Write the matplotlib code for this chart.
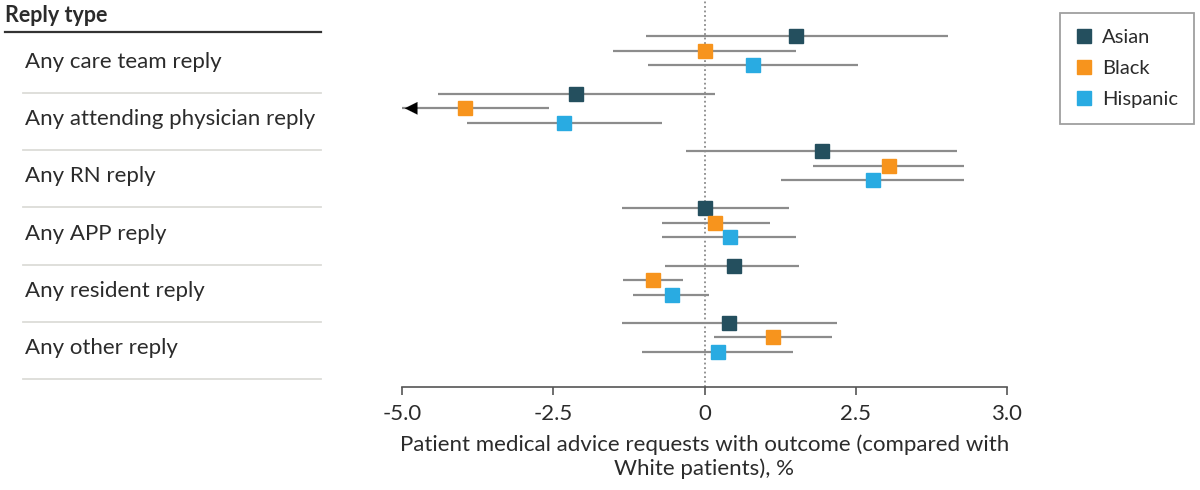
import numpy as np
import matplotlib
matplotlib.use("Agg")
import matplotlib.pyplot as plt
from matplotlib import transforms
from matplotlib.lines import Line2D

plt.rcParams['font.family'] = ['Lato', 'DejaVu Sans']

# Data (difference vs White patients, %)
reply_types = ["Any care team reply", "Any attending physician reply", "Any RN reply",
               "Any APP reply", "Any resident reply", "Any other reply"]
groups = ["Asian", "Black", "Hispanic"]
colors = ["#244f5e", "#f7941d", "#29abe2"]

asian_est = [1.51, -2.12, 1.94, 0.00, 0.48, 0.41]
asian_lo = [-0.96, -4.40, -0.30, -1.36, -0.65, -1.36]
asian_hi = [4.02, 0.18, 4.17, 1.39, 1.56, 2.19]

black_est = [0.00, -3.96, 3.05, 0.18, -0.85, 1.14]
black_lo = [-1.51, -5.30, 1.79, -0.70, -1.34, 0.15]
black_hi = [1.52, -2.57, 4.29, 1.08, -0.36, 2.11]

hisp_est = [0.80, -2.32, 2.78, 0.42, -0.54, 0.22]
hisp_lo = [-0.94, -3.92, 1.26, -0.70, -1.18, -1.04]
hisp_hi = [2.53, -0.71, 4.29, 1.51, 0.08, 1.47]

tick_vals = [-5.0, -2.5, 0, 2.5, 5.0]
tick_labels = ["-5.0", "-2.5", "0", "2.5", "3.0"]

series = [(asian_est, asian_lo, asian_hi),
          (black_est, black_lo, black_hi),
          (hisp_est, hisp_lo, hisp_hi)]

fig = plt.figure(figsize=(12, 4.9), dpi=100)
ax = fig.add_axes([402 / 1200, 1 - 387 / 490, 605 / 1200, 387 / 490])
xmin, xmax = -5.0, 5.0
ax.set_xlim(xmin, xmax)
ax.set_ylim(5.864, -0.89)

offsets = [-0.253, 0.0, 0.253]
txt = "#2b2b2b"

ax.axvline(0, color="#8a8a8a", lw=1.3, ls=(0, (1, 1.5)), zorder=1)

for (est, lo, hi), col, off in zip(series, colors, offsets):
    for i in range(len(reply_types)):
        y = i + off
        left = max(lo[i], xmin)
        ax.plot([left, hi[i]], [y, y], color="#8c8c8c", lw=1.6, zorder=2,
                solid_capstyle="butt")
        if lo[i] < xmin:
            ax.annotate("", xy=(xmin, y), xytext=(xmin + 0.3, y),
                        arrowprops=dict(arrowstyle="-|>,head_length=0.6,head_width=0.3",
                                        color="black", mutation_scale=15, lw=0.1),
                        zorder=4)
        ax.plot(est[i], y, marker="s", ms=9.5, color=col, mec=col, zorder=3)

for s in ["top", "right", "left"]:
    ax.spines[s].set_visible(False)
ax.spines["bottom"].set_color("#555555")
ax.spines["bottom"].set_linewidth(1.2)
ax.set_yticks([])
ax.set_xticks(tick_vals)
ax.set_xticklabels(tick_labels)
ax.tick_params(axis="x", length=6, width=1.2, color="#555555", labelsize=16,
               labelcolor=txt, pad=6)
ax.set_xlabel("Patient medical advice requests with outcome (compared with\nWhite patients), %",
              fontsize=16, color=txt, labelpad=8, linespacing=1.2)

# left-hand table of reply types
tr = transforms.blended_transform_factory(fig.transFigure, ax.transData)
fig.text(5 / 1200, 1 - 15 / 490, "Reply type", fontsize=15.5, fontweight="bold",
         color=txt, va="center", ha="left")
ax.plot([5 / 1200, 321 / 1200], [-0.33, -0.33], transform=tr, color="#333333",
        lw=1.6, clip_on=False)
for i, name in enumerate(reply_types):
    ax.text(25 / 1200, i + 0.19, name, transform=tr, fontsize=16, color=txt,
            va="center", ha="left")
    ax.plot([23 / 1200, 321 / 1200], [i + 0.73, i + 0.73], transform=tr,
            color="#dcdcd8", lw=1.3, clip_on=False)

handles = [Line2D([], [], marker="s", ls="", ms=10, color=c, mec=c) for c in colors]
leg = fig.legend(handles, groups, loc="upper left",
                 bbox_to_anchor=(1060 / 1200, 1 - 13 / 490), fontsize=14.5,
                 frameon=True, fancybox=False, handlelength=0.8,
                 handletextpad=0.5, labelspacing=0.68, borderpad=0.8,
                 borderaxespad=0)
leg.get_frame().set_edgecolor("#888888")
leg.get_frame().set_linewidth(1.3)
for t in leg.get_texts():
    t.set_color(txt)

fig.savefig("out.png", dpi=100)
